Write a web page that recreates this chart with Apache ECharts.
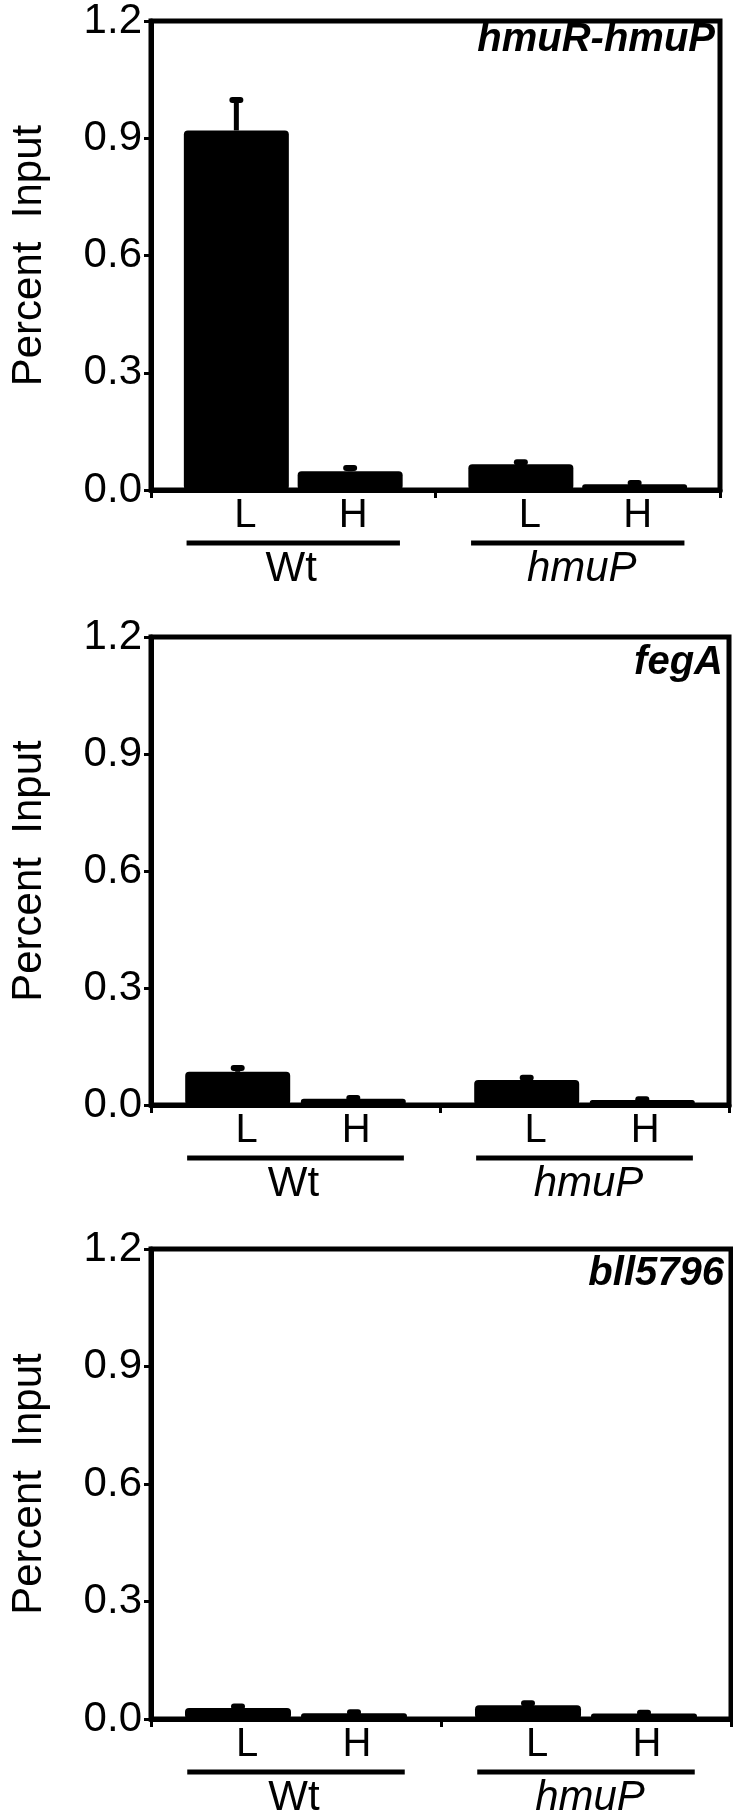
<!DOCTYPE html>
<html>
<head>
<meta charset="utf-8">
<script src="https://cdn.jsdelivr.net/npm/echarts@6/dist/echarts.min.js"></script>
<style>
  html, body { margin: 0; padding: 0; background: #fff; }
  #chart { width: 733px; height: 1811px; }
</style>
</head>
<body>
<div id="chart"></div>
<script>
// bar positions on a 0..20 x scale (two groups of L/H)
const xPositions = [3, 7, 13, 17];
const barLabels = ['L', 'H', 'L', 'H'];
const groupNames = ['Wt', 'hmuP'];
const groupSpans = [[1.25, 8.75], [11.25, 18.75]];
const geneNames = ['hmuR-hmuP', 'fegA', 'bll5796'];

// percent input (mean) and upper error
const hmuRValues = [0.92, 0.048, 0.066, 0.015];
const hmuRErrors = [0.078, 0.008, 0.005, 0.003];
const fegAValues = [0.085, 0.016, 0.064, 0.013];
const fegAErrors = [0.010, 0.002, 0.006, 0.002];
const bllValues = [0.028, 0.015, 0.035, 0.014];
const bllErrors = [0.004, 0.002, 0.005, 0.002];

const FONT = "'Liberation Sans', Arial, Helvetica, sans-serif";
const labelNudge = { L: 9, H: 3 };

const panels = [
  { left: 127, top: 16, width: 593, height: 474, barWidth: 105, titleX: 715, titleY: 20, values: hmuRValues, errors: hmuRErrors },
  { left: 129, top: 637, width: 600, height: 468, barWidth: 105, titleX: 723, titleY: 643, values: fegAValues, errors: fegAErrors },
  { left: 130, top: 1249, width: 601, height: 470, barWidth: 106, titleX: 724, titleY: 1254, values: bllValues, errors: bllErrors },
];

function renderError(params, api) {
  const x = api.value(0), v = api.value(1), e = api.value(2);
  const base = api.coord([x, v]);
  const top = api.coord([x, v + e]);
  return {
    type: 'group',
    children: [
      { type: 'line', shape: { x1: base[0], y1: base[1], x2: top[0], y2: top[1] }, style: { stroke: '#000', lineWidth: 5 } },
      { type: 'line', shape: { x1: top[0] - 4, y1: top[1], x2: top[0] + 4, y2: top[1] }, style: { stroke: '#000', lineWidth: 6, lineCap: 'round' } },
    ],
  };
}

function renderGroup(params, api) {
  const a = api.coord([api.value(0), 0]);
  const b = api.coord([api.value(1), 0]);
  const name = groupNames[params.dataIndex];
  const italic = name !== 'Wt';
  return {
    type: 'group',
    children: [
      { type: 'line', shape: { x1: a[0], y1: a[1] + 53, x2: b[0], y2: b[1] + 53 }, style: { stroke: '#000', lineWidth: 5 } },
      {
        type: 'text',
        style: {
          x: (a[0] + b[0]) / 2 + (italic ? 4 : -2), y: a[1] + 58,
          text: name, fill: '#000',
          fontSize: 42, fontFamily: FONT,
          fontStyle: italic ? 'italic' : 'normal',
          align: 'center', verticalAlign: 'top',
        },
      },
    ],
  };
}

const option = {
  animation: false,
  backgroundColor: '#fff',
  graphic: panels.map((p, i) => ({
    type: 'text',
    x: p.titleX, y: p.titleY,
    style: {
      text: geneNames[i], fill: '#000',
      fontFamily: FONT, fontSize: 40, fontWeight: 'bold', fontStyle: 'italic',
      align: 'right', verticalAlign: 'top',
    },
  })),
  grid: panels.map(p => ({
    left: p.left, top: p.top, width: p.width, height: p.height,
    show: true, borderColor: '#000', borderWidth: 5, backgroundColor: 'transparent',
  })),
  xAxis: panels.map((p, i) => ({
    type: 'value', gridIndex: i, min: 0, max: 20, interval: 10,
    axisLine: { show: true, lineStyle: { color: '#000', width: 5 } },
    axisTick: { show: true, length: 8, lineStyle: { color: '#000', width: 3 } },
    axisLabel: { show: false },
    splitLine: { show: false },
  })),
  yAxis: panels.map((p, i) => ({
    type: 'value', gridIndex: i, min: 0, max: 1.2, interval: 0.3,
    name: 'Percent  Input', nameLocation: 'middle', nameGap: 101, nameRotate: 90,
    nameTextStyle: { fontFamily: FONT, fontSize: 42, color: '#000' },
    axisLine: { show: true, lineStyle: { color: '#000', width: 5 } },
    axisTick: { show: true, length: 7, lineStyle: { color: '#000', width: 3 } },
    axisLabel: { margin: 9, fontFamily: FONT, fontSize: 42, color: '#000', formatter: v => v.toFixed(1) },
    splitLine: { show: false },
  })),
  series: panels.flatMap((p, i) => [
    {
      type: 'bar', xAxisIndex: i, yAxisIndex: i,
      barWidth: p.barWidth,
      data: xPositions.map((x, k) => ({
        value: [x, p.values[k]],
        label: { offset: [labelNudge[barLabels[k]], 0] },
      })),
      itemStyle: { color: '#000', borderRadius: 4 },
      label: {
        show: true, position: 'bottom', distance: 6,
        fontFamily: FONT, fontSize: 40, color: '#000',
        formatter: q => barLabels[q.dataIndex],
      },
    },
    {
      type: 'custom', xAxisIndex: i, yAxisIndex: i, clip: false,
      renderItem: renderError,
      data: xPositions.map((x, k) => [x, p.values[k], p.errors[k]]),
      z: 3,
    },
    {
      type: 'custom', xAxisIndex: i, yAxisIndex: i, clip: false,
      renderItem: renderGroup,
      data: groupSpans,
    },
  ]),
};

const chart = echarts.init(document.getElementById('chart'), null, { renderer: 'canvas' });
chart.setOption(option);
</script>
</body>
</html>
